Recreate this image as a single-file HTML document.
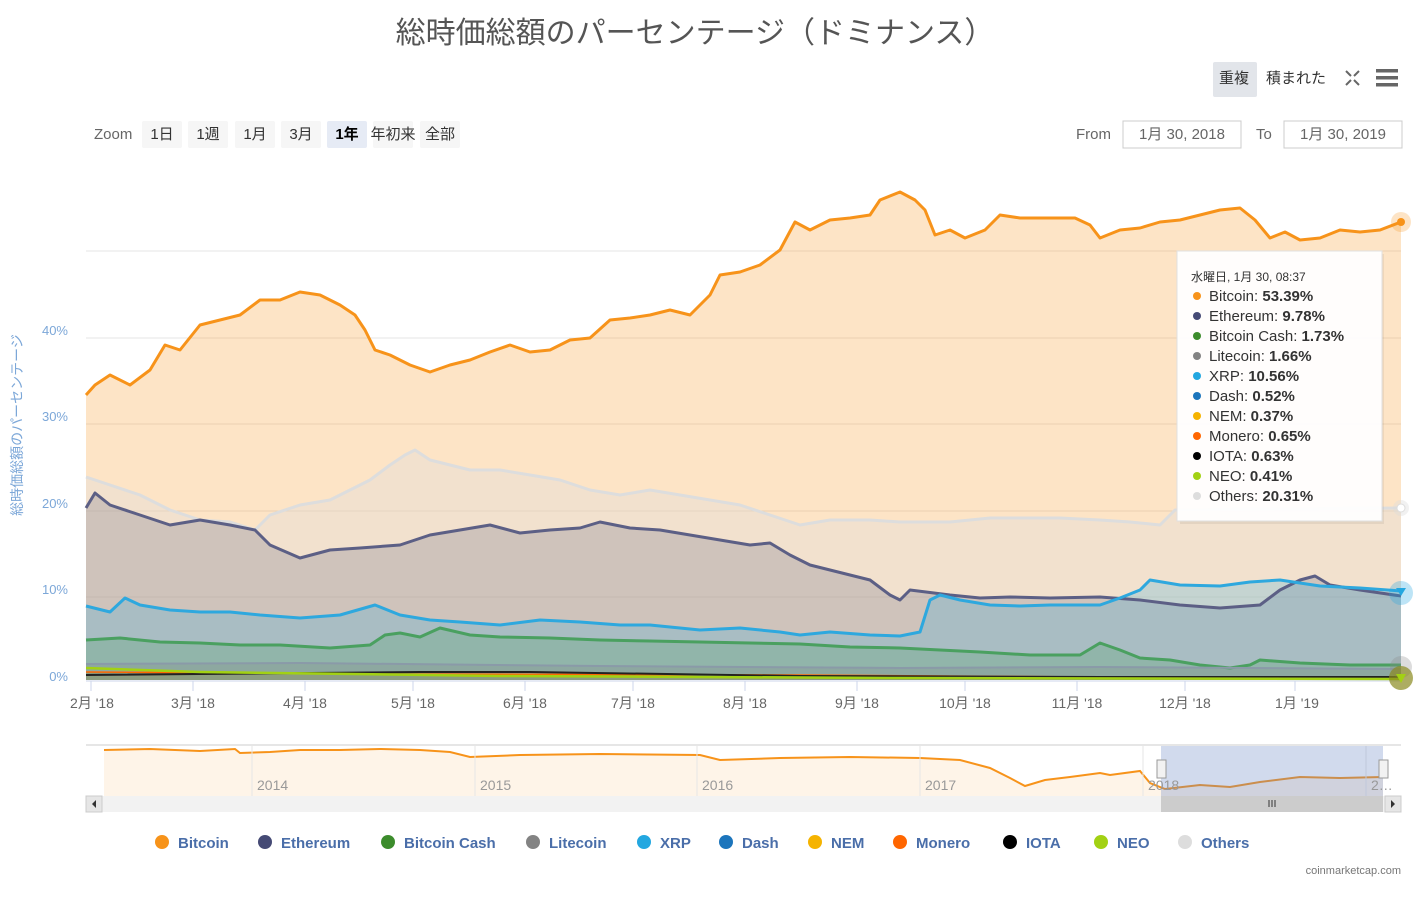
<!DOCTYPE html>
<html><head><meta charset="utf-8"><style>
body{margin:0;background:#fff;font-family:"Liberation Sans","Noto Sans CJK JP",sans-serif;}
svg text{font-family:"Liberation Sans","Noto Sans CJK JP",sans-serif;}
</style></head><body>
<svg width="1427" height="895" xmlns="http://www.w3.org/2000/svg">
<text x="695" y="43" text-anchor="middle" font-size="30" fill="#555">総時価総額のパーセンテージ（ドミナンス）</text>
<rect x="1213" y="62" width="44" height="35" rx="2" fill="#e2e5ea"/>
<text x="1234" y="83" text-anchor="middle" font-size="15" fill="#333">重複</text>
<text x="1296" y="83" text-anchor="middle" font-size="15" fill="#333">積まれた</text>
<g stroke="#666" stroke-width="2" fill="none"><path d="M1346 71l5 5M1359 71l-5 5M1346 85l5-5M1359 85l-5-5"/></g>
<g fill="#666"><rect x="1376" y="69" width="22" height="3.5"/><rect x="1376" y="76" width="22" height="3.5"/><rect x="1376" y="83" width="22" height="3.5"/></g>
<text x="94" y="139" font-size="15" fill="#666">Zoom</text>
<g font-size="15" fill="#333" text-anchor="middle">
<rect x="142" y="121" width="40" height="27" rx="2" fill="#f6f6f6"/><text x="162" y="139">1日</text>
<rect x="188" y="121" width="40" height="27" rx="2" fill="#f6f6f6"/><text x="208" y="139">1週</text>
<rect x="235" y="121" width="40" height="27" rx="2" fill="#f6f6f6"/><text x="255" y="139">1月</text>
<rect x="281" y="121" width="40" height="27" rx="2" fill="#f6f6f6"/><text x="301" y="139">3月</text>
<rect x="327" y="121" width="40" height="27" rx="2" fill="#e6ebf5"/><text x="347" y="139" font-weight="bold" fill="#000">1年</text>
<rect x="373" y="121" width="40" height="27" rx="2" fill="#f6f6f6"/><text x="393" y="139">年初来</text>
<rect x="420" y="121" width="40" height="27" rx="2" fill="#f6f6f6"/><text x="440" y="139">全部</text>
</g>
<text x="1076" y="139" font-size="15" fill="#666">From</text>
<rect x="1123" y="121" width="118" height="27" fill="#fff" stroke="#ccc"/>
<text x="1182" y="139" text-anchor="middle" font-size="15" fill="#666">1月 30, 2018</text>
<text x="1256" y="139" font-size="15" fill="#666">To</text>
<rect x="1284" y="121" width="118" height="27" fill="#fff" stroke="#ccc"/>
<text x="1343" y="139" text-anchor="middle" font-size="15" fill="#666">1月 30, 2019</text>
<g stroke="#e6e6e6" stroke-width="1">
<line x1="86" x2="1401" y1="251" y2="251"/><line x1="86" x2="1401" y1="338" y2="338"/><line x1="86" x2="1401" y1="424" y2="424"/><line x1="86" x2="1401" y1="511" y2="511"/><line x1="86" x2="1401" y1="597" y2="597"/>
</g>
<g font-size="13" text-anchor="end" style="fill:#7ca7d8">
<text x="68" y="335">40%</text><text x="68" y="421">30%</text><text x="68" y="508">20%</text><text x="68" y="594">10%</text><text x="68" y="681">0%</text>
</g>
<text transform="translate(22,425) rotate(-90)" text-anchor="middle" font-size="14" fill="#7ca7d8">総時価総額のパーセンテージ</text>
<!-- fills -->
<g stroke="none">
<path fill="#f7931a" fill-opacity="0.25" d="M86,395L95,385L110,375L130,385L150,370L165,345L180,350L200,325L220,320L240,315L260,300L280,300L300,292L320,295L340,305L355,315L365,330L375,350L390,355L410,365L430,372L450,365L470,360L490,352L510,345L530,352L550,350L570,340L590,338L610,320L630,318L650,315L670,310L690,315L710,295L720,275L740,272L760,265L780,250L795,222L810,230L830,220L850,218L870,215L880,200L900,192L915,200L925,210L935,235L950,230L965,238L985,230L1000,215L1020,218L1050,218L1075,218L1090,225L1100,238L1120,230L1140,228L1160,222L1180,220L1200,215L1220,210L1240,208L1255,220L1270,238L1285,232L1300,240L1320,238L1340,230L1360,232L1380,230L1401,222L1401,680L86,680Z"/>
<path fill="#dddddd" fill-opacity="0.35" d="M86,477L110,485L140,495L170,510L200,520L230,522L255,530L270,515L300,505L330,500L350,490L370,480L390,465L405,455L415,450L430,460L450,465L470,470L500,470L530,475L560,480L590,490L620,495L650,490L680,495L710,500L740,505L770,515L800,525L830,520L870,520L900,522L950,522L990,518L1030,518L1060,518L1100,520L1130,522L1160,525L1175,510L1401,508L1401,680L86,680Z"/>
<path fill="#454a75" fill-opacity="0.2" d="M86,508L95,493L110,505L140,515L170,525L200,520L230,525L255,530L270,545L300,558L330,550L360,548L400,545L430,535L460,530L490,525L520,533L550,530L580,528L600,522L630,528L660,530L690,535L720,540L750,545L770,543L790,555L810,565L850,575L870,580L890,595L900,600L910,590L950,595L980,598L1010,597L1050,598L1100,597L1140,600L1180,605L1220,608L1260,605L1280,590L1300,580L1315,576L1330,585L1360,590L1401,596L1401,680L86,680Z"/>
<path fill="#23a7e0" fill-opacity="0.22" d="M86,606L110,612L125,598L140,605L170,610L200,612L230,612L260,615L300,618L340,615L375,605L400,615L430,620L460,622L500,625L540,620L580,622L620,625L650,625L700,630L740,628L780,632L800,635L830,632L870,635L900,636L920,632L930,600L940,595L960,600L990,605L1020,606L1050,605L1080,605L1100,605L1120,598L1140,590L1150,580L1180,585L1220,586L1250,582L1280,580L1320,586L1360,588L1401,591L1401,680L86,680Z"/>
<path fill="#3c9c50" fill-opacity="0.22" d="M86,640L120,638L160,642L200,643L240,645L280,645L330,648L370,645L385,635L400,633L420,637L440,628L470,635L500,637L550,638L600,640L650,641L700,642L750,643L800,644L850,647L900,648L940,650L980,652L1030,655L1080,655L1100,643L1120,650L1140,658L1170,660L1200,665L1230,668L1250,665L1260,660L1300,663L1350,665L1401,665L1401,680L86,680Z"/>
<path fill="#838383" fill-opacity="0.25" d="M86,664L300,663L600,666L900,668L1100,667L1250,668L1401,669L1401,680L86,680Z"/>
<path fill="#8a7a20" fill-opacity="0.25" d="M86,672L400,674L800,675L1401,677L1401,680L86,680Z"/>
</g>
<!-- lines -->
<g stroke-width="3" stroke-linejoin="round" fill="none">
<path stroke="#f7931a" d="M86,395L95,385L110,375L130,385L150,370L165,345L180,350L200,325L220,320L240,315L260,300L280,300L300,292L320,295L340,305L355,315L365,330L375,350L390,355L410,365L430,372L450,365L470,360L490,352L510,345L530,352L550,350L570,340L590,338L610,320L630,318L650,315L670,310L690,315L710,295L720,275L740,272L760,265L780,250L795,222L810,230L830,220L850,218L870,215L880,200L900,192L915,200L925,210L935,235L950,230L965,238L985,230L1000,215L1020,218L1050,218L1075,218L1090,225L1100,238L1120,230L1140,228L1160,222L1180,220L1200,215L1220,210L1240,208L1255,220L1270,238L1285,232L1300,240L1320,238L1340,230L1360,232L1380,230L1401,222"/>
<path stroke="#dddddd" d="M86,477L110,485L140,495L170,510L200,520L230,522L255,530L270,515L300,505L330,500L350,490L370,480L390,465L405,455L415,450L430,460L450,465L470,470L500,470L530,475L560,480L590,490L620,495L650,490L680,495L710,500L740,505L770,515L800,525L830,520L870,520L900,522L950,522L990,518L1030,518L1060,518L1100,520L1130,522L1160,525L1175,510L1401,508"/>
<path stroke="#5c5f85" d="M86,508L95,493L110,505L140,515L170,525L200,520L230,525L255,530L270,545L300,558L330,550L360,548L400,545L430,535L460,530L490,525L520,533L550,530L580,528L600,522L630,528L660,530L690,535L720,540L750,545L770,543L790,555L810,565L850,575L870,580L890,595L900,600L910,590L950,595L980,598L1010,597L1050,598L1100,597L1140,600L1180,605L1220,608L1260,605L1280,590L1300,580L1315,576L1330,585L1360,590L1401,596"/>
<path stroke="#2ea8de" d="M86,606L110,612L125,598L140,605L170,610L200,612L230,612L260,615L300,618L340,615L375,605L400,615L430,620L460,622L500,625L540,620L580,622L620,625L650,625L700,630L740,628L780,632L800,635L830,632L870,635L900,636L920,632L930,600L940,595L960,600L990,605L1020,606L1050,605L1080,605L1100,605L1120,598L1140,590L1150,580L1180,585L1220,586L1250,582L1280,580L1320,586L1360,588L1401,591"/>
<path stroke="#4aa060" d="M86,640L120,638L160,642L200,643L240,645L280,645L330,648L370,645L385,635L400,633L420,637L440,628L470,635L500,637L550,638L600,640L650,641L700,642L750,643L800,644L850,647L900,648L940,650L980,652L1030,655L1080,655L1100,643L1120,650L1140,658L1170,660L1200,665L1230,668L1250,665L1260,660L1300,663L1350,665L1401,665"/>
<path stroke="#8a9aa8" stroke-width="2" d="M86,664L300,663L600,666L900,668L1100,667L1250,668L1401,669"/>
<path stroke="#ff6600" stroke-width="1.5" d="M86,672L400,674L800,675L1100,677L1401,678"/>
<path stroke="#222" stroke-width="2" d="M86,675L420,672L530,672L800,676L1100,677L1250,677L1401,677"/>
<path stroke="#a2d113" stroke-width="2.5" d="M86,668L200,672L500,676L900,678L1401,679"/>
</g>
<line x1="86" x2="1401" y1="681" y2="681" stroke="#ccd6eb"/>
<g stroke="#ccd6eb"><line x1="91" x2="91" y1="681" y2="691"/><line x1="193" x2="193" y1="681" y2="691"/><line x1="305" x2="305" y1="681" y2="691"/><line x1="413" x2="413" y1="681" y2="691"/><line x1="525" x2="525" y1="681" y2="691"/><line x1="633" x2="633" y1="681" y2="691"/><line x1="745" x2="745" y1="681" y2="691"/><line x1="857" x2="857" y1="681" y2="691"/><line x1="965" x2="965" y1="681" y2="691"/><line x1="1077" x2="1077" y1="681" y2="691"/><line x1="1185" x2="1185" y1="681" y2="691"/><line x1="1295" x2="1295" y1="681" y2="691"/></g>
<g font-size="14" fill="#666" text-anchor="middle">
<text x="92" y="708">2月 '18</text><text x="193" y="708">3月 '18</text><text x="305" y="708">4月 '18</text><text x="413" y="708">5月 '18</text><text x="525" y="708">6月 '18</text><text x="633" y="708">7月 '18</text><text x="745" y="708">8月 '18</text><text x="857" y="708">9月 '18</text><text x="965" y="708">10月 '18</text><text x="1077" y="708">11月 '18</text><text x="1185" y="708">12月 '18</text><text x="1297" y="708">1月 '19</text>
</g>
<circle cx="1401" cy="222" r="10" fill="#f7931a" fill-opacity="0.25"/><circle cx="1401" cy="222" r="4" fill="#f7931a"/>
<circle cx="1401" cy="508" r="8" fill="#ddd" fill-opacity="0.4"/><circle cx="1401" cy="508" r="4" fill="#fff" stroke="#ddd"/>
<circle cx="1401" cy="593" r="12" fill="#23a7e0" fill-opacity="0.3"/><path d="M1396,588h10l-5,8z" fill="#23a7e0"/>
<circle cx="1401" cy="667" r="11" fill="#8a8a8a" fill-opacity="0.3"/>
<circle cx="1401" cy="678" r="12" fill="#8a8a20" fill-opacity="0.7"/><path d="M1396,674h10l-5,9z" fill="#a2d113"/>
<rect x="1180" y="254" width="204" height="270" fill="#000" opacity="0.06"/>
<rect x="1177" y="251" width="205" height="270" fill="#fff" fill-opacity="0.95" stroke="#e0e0e0"/>
<text x="1191" y="281" font-size="12" fill="#333">水曜日, 1月 30, 08:37</text>
<g font-size="15" fill="#333">
<circle cx="1197" cy="296" r="4" fill="#f7931a"/><text x="1209" y="301">Bitcoin: <tspan font-weight="bold">53.39%</tspan></text>
<circle cx="1197" cy="316" r="4" fill="#454a75"/><text x="1209" y="321">Ethereum: <tspan font-weight="bold">9.78%</tspan></text>
<circle cx="1197" cy="336" r="4" fill="#3c8c2c"/><text x="1209" y="341">Bitcoin Cash: <tspan font-weight="bold">1.73%</tspan></text>
<circle cx="1197" cy="356" r="4" fill="#838383"/><text x="1209" y="361">Litecoin: <tspan font-weight="bold">1.66%</tspan></text>
<circle cx="1197" cy="376" r="4" fill="#23a7e0"/><text x="1209" y="381">XRP: <tspan font-weight="bold">10.56%</tspan></text>
<circle cx="1197" cy="396" r="4" fill="#1c75bc"/><text x="1209" y="401">Dash: <tspan font-weight="bold">0.52%</tspan></text>
<circle cx="1197" cy="416" r="4" fill="#f5b300"/><text x="1209" y="421">NEM: <tspan font-weight="bold">0.37%</tspan></text>
<circle cx="1197" cy="436" r="4" fill="#ff6600"/><text x="1209" y="441">Monero: <tspan font-weight="bold">0.65%</tspan></text>
<circle cx="1197" cy="456" r="4" fill="#000"/><text x="1209" y="461">IOTA: <tspan font-weight="bold">0.63%</tspan></text>
<circle cx="1197" cy="476" r="4" fill="#a2d113"/><text x="1209" y="481">NEO: <tspan font-weight="bold">0.41%</tspan></text>
<circle cx="1197" cy="496" r="4" fill="#ddd"/><text x="1209" y="501">Others: <tspan font-weight="bold">20.31%</tspan></text>
</g>
<line x1="86" x2="1401" y1="745" y2="745" stroke="#ccc"/>
<path d="M104,796L104,750L150,749L200,751L235,749L240,753L270,752L300,750L340,750L380,749L420,750L450,752L470,757L520,755L600,754L700,755L720,760L780,758L850,757L920,758L960,760L990,768L1010,778L1025,786L1045,780L1070,777L1100,773L1110,775L1140,771L1150,783L1165,789L1200,785L1230,787L1260,782L1300,777L1340,778L1383,777L1383,796Z" fill="#f7931a" fill-opacity="0.1" stroke="none"/>
<path d="M104,750L150,749L200,751L235,749L240,753L270,752L300,750L340,750L380,749L420,750L450,752L470,757L520,755L600,754L700,755L720,760L780,758L850,757L920,758L960,760L990,768L1010,778L1025,786L1045,780L1070,777L1100,773L1110,775L1140,771L1150,783L1165,789L1200,785L1230,787L1260,782L1300,777L1340,778L1383,777" fill="none" stroke="#f7931a" stroke-width="2"/>
<g stroke="#e6e6e6"><line x1="252" x2="252" y1="746" y2="796"/><line x1="475" x2="475" y1="746" y2="796"/><line x1="697" x2="697" y1="746" y2="796"/><line x1="920" x2="920" y1="746" y2="796"/><line x1="1143" x2="1143" y1="746" y2="796"/><line x1="1366" x2="1366" y1="746" y2="796"/></g>
<rect x="1161" y="746" width="222" height="50" fill="#6685c2" fill-opacity="0.3"/>
<g font-size="14" fill="#999"><text x="257" y="790">2014</text><text x="480" y="790">2015</text><text x="702" y="790">2016</text><text x="925" y="790">2017</text><text x="1148" y="790">2018</text><text x="1371" y="790">2…</text></g>
<rect x="1157" y="760" width="9" height="18" fill="#f2f2f2" stroke="#999"/><rect x="1379" y="760" width="9" height="18" fill="#f2f2f2" stroke="#999"/>
<rect x="86" y="796" width="1315" height="16" fill="#f2f2f2"/>
<rect x="1161" y="796" width="222" height="16" fill="#ccc"/>
<rect x="86" y="796" width="16" height="16" fill="#e6e6e6" stroke="#ccc"/><path d="M96,800v8l-4,-4z" fill="#333"/>
<rect x="1385" y="796" width="16" height="16" fill="#e6e6e6" stroke="#ccc"/><path d="M1391,800v8l4,-4z" fill="#333"/>
<g stroke="#333"><line x1="1269" x2="1269" y1="800" y2="807"/><line x1="1272" x2="1272" y1="800" y2="807"/><line x1="1275" x2="1275" y1="800" y2="807"/></g>
<g font-size="15" font-weight="bold" style="fill:#4a6ea9">
<circle cx="162" cy="842" r="7" fill="#f7931a"/><text x="178" y="848">Bitcoin</text>
<circle cx="265" cy="842" r="7" fill="#454a75"/><text x="281" y="848">Ethereum</text>
<circle cx="388" cy="842" r="7" fill="#3c8c2c"/><text x="404" y="848">Bitcoin Cash</text>
<circle cx="533" cy="842" r="7" fill="#838383"/><text x="549" y="848">Litecoin</text>
<circle cx="644" cy="842" r="7" fill="#23a7e0"/><text x="660" y="848">XRP</text>
<circle cx="726" cy="842" r="7" fill="#1c75bc"/><text x="742" y="848">Dash</text>
<circle cx="815" cy="842" r="7" fill="#f5b300"/><text x="831" y="848">NEM</text>
<circle cx="900" cy="842" r="7" fill="#ff6600"/><text x="916" y="848">Monero</text>
<circle cx="1010" cy="842" r="7" fill="#000"/><text x="1026" y="848">IOTA</text>
<circle cx="1101" cy="842" r="7" fill="#a2d113"/><text x="1117" y="848">NEO</text>
<circle cx="1185" cy="842" r="7" fill="#ddd"/><text x="1201" y="848">Others</text>
</g>
<text x="1401" y="874" text-anchor="end" font-size="11" fill="#777">coinmarketcap.com</text>
</svg>
</body></html>
